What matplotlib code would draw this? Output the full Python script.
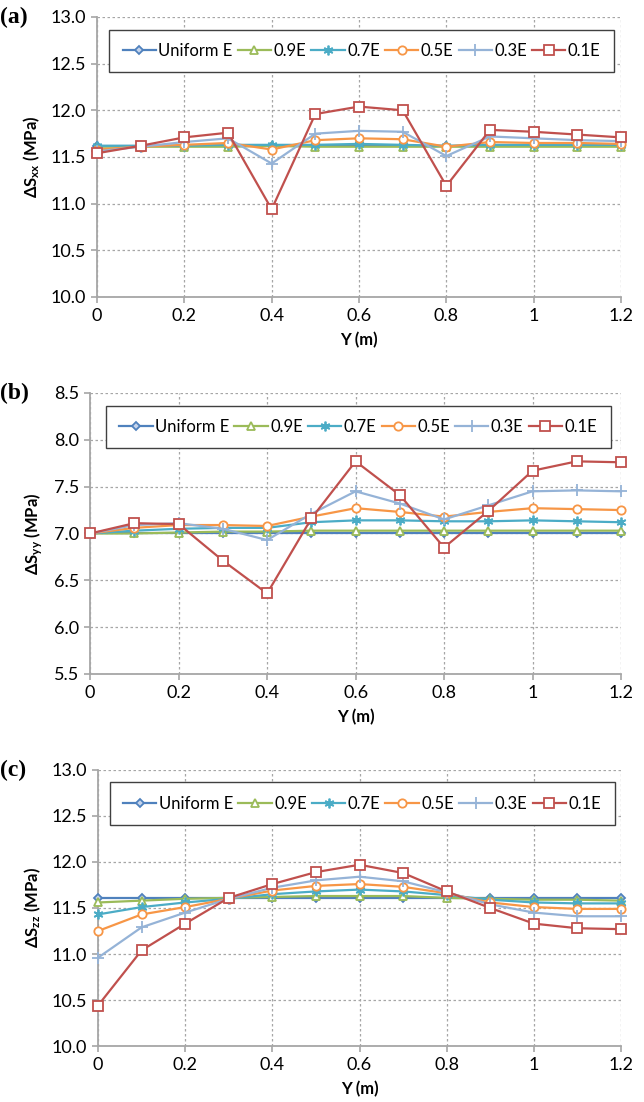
import numpy as np
import matplotlib
matplotlib.use("Agg")
import matplotlib.pyplot as plt

plt.rcParams['font.family'] = ['Lato', 'DejaVu Sans']
plt.rcParams['mathtext.fontset'] = 'custom'
plt.rcParams['mathtext.rm'] = 'Lato'
plt.rcParams['mathtext.bf'] = 'Lato:bold'
plt.rcParams['mathtext.default'] = 'bf'

y_pos = [0, 0.1, 0.2, 0.3, 0.4, 0.5, 0.6, 0.7, 0.8, 0.9, 1.0, 1.1, 1.2]
series_names = ["Uniform E", "0.9E", "0.7E", "0.5E", "0.3E", "0.1E"]

# (a) change of stress in x
sxx_uniform = [11.62] * 13
sxx_09 = [11.61, 11.61, 11.61, 11.61, 11.62, 11.61, 11.61, 11.61, 11.61, 11.61, 11.61, 11.61, 11.61]
sxx_07 = [11.62, 11.62, 11.62, 11.63, 11.63, 11.63, 11.64, 11.63, 11.62, 11.63, 11.63, 11.63, 11.63]
sxx_05 = [11.58, 11.61, 11.63, 11.65, 11.58, 11.68, 11.70, 11.69, 11.61, 11.66, 11.65, 11.65, 11.64]
sxx_03 = [11.56, 11.61, 11.66, 11.70, 11.43, 11.75, 11.78, 11.77, 11.51, 11.72, 11.70, 11.68, 11.67]
sxx_01 = [11.54, 11.62, 11.71, 11.76, 10.94, 11.96, 12.04, 12.00, 11.19, 11.79, 11.77, 11.74, 11.71]

# (b) change of stress in y
syy_uniform = [7.00] * 13
syy_09 = [7.00, 7.00, 7.01, 7.02, 7.02, 7.03, 7.03, 7.03, 7.03, 7.03, 7.03, 7.03, 7.03]
syy_07 = [7.00, 7.03, 7.05, 7.06, 7.06, 7.12, 7.14, 7.14, 7.13, 7.13, 7.14, 7.13, 7.12]
syy_05 = [7.00, 7.06, 7.09, 7.09, 7.08, 7.18, 7.27, 7.23, 7.18, 7.23, 7.27, 7.26, 7.25]
syy_03 = [7.00, 7.09, 7.11, 7.05, 6.93, 7.21, 7.45, 7.32, 7.15, 7.30, 7.45, 7.46, 7.45]
syy_01 = [7.00, 7.11, 7.10, 6.71, 6.36, 7.16, 7.77, 7.41, 6.85, 7.24, 7.67, 7.77, 7.76]

# (c) change of stress in z
szz_uniform = [11.61] * 13
szz_09 = [11.56, 11.58, 11.60, 11.61, 11.62, 11.63, 11.63, 11.63, 11.61, 11.60, 11.59, 11.59, 11.58]
szz_07 = [11.43, 11.51, 11.56, 11.60, 11.65, 11.68, 11.70, 11.68, 11.64, 11.59, 11.56, 11.55, 11.55]
szz_05 = [11.25, 11.43, 11.51, 11.60, 11.69, 11.74, 11.76, 11.73, 11.66, 11.56, 11.51, 11.49, 11.49]
szz_03 = [10.96, 11.29, 11.45, 11.60, 11.72, 11.80, 11.84, 11.79, 11.67, 11.54, 11.45, 11.41, 11.41]
szz_01 = [10.44, 11.04, 11.33, 11.61, 11.76, 11.89, 11.97, 11.88, 11.68, 11.50, 11.33, 11.28, 11.27]

colors = ["#4F81BD", "#9BBB59", "#4BACC6", "#F79646", "#95B3D7", "#C0504D"]
markers = ["D", "^", (6, 2, 0), "o", "+", "s"]
msizes = [4.5, 5.5, 7, 6, 8, 6.5]
mfaces = ["#C6D5EC", "white", "none", "white", "none", "white"]

panels = [
    ("(a)", r"ΔS$_{xx}$ (MPa)", [sxx_uniform, sxx_09, sxx_07, sxx_05, sxx_03, sxx_01],
     (10.0, 13.0), np.arange(10.0, 13.01, 0.5), [0.1506, 0.7305, 0.8137, 0.2541]),
    ("(b)", r"ΔS$_{yy}$ (MPa)", [syy_uniform, syy_09, syy_07, syy_05, syy_03, syy_01],
     (5.5, 8.5), np.arange(5.5, 8.51, 0.5), [0.1400, 0.3884, 0.8243, 0.2550]),
    ("(c)", r"ΔS$_{zz}$ (MPa)", [szz_uniform, szz_09, szz_07, szz_05, szz_03, szz_01],
     (10.0, 13.0), np.arange(10.0, 13.01, 0.5), [0.1522, 0.0508, 0.8121, 0.2505]),
]

fig = plt.figure(figsize=(6.44, 11.02), dpi=100)

for tag, ylabel, data, ylim, yticks, rect in panels:
    ax = fig.add_axes(rect)
    for vals, name, c, m, ms, mf in zip(data, series_names, colors, markers, msizes, mfaces):
        ax.plot(y_pos, vals, color=c, lw=1.6, marker=m, markersize=ms,
                markerfacecolor=mf, markeredgecolor=c, markeredgewidth=1.3,
                label=name, clip_on=False, zorder=3)

    ax.set_xlim(0, 1.2)
    ax.set_ylim(*ylim)
    ax.set_xticks([0, 0.2, 0.4, 0.6, 0.8, 1.0, 1.2])
    ax.set_xticklabels(["0", "0.2", "0.4", "0.6", "0.8", "1", "1.2"])
    ax.set_yticks(yticks)
    ax.set_yticklabels([f"{v:.1f}" for v in yticks])
    ax.tick_params(labelsize=13, length=4, color="#A6A6A6", width=1.2, pad=4)

    ax.grid(True, color="#A6A6A6", linestyle=(0, (2, 2)), linewidth=0.9)
    ax.set_axisbelow(True)
    for side in ["top", "right"]:
        ax.spines[side].set_visible(False)
    for side in ["left", "bottom"]:
        ax.spines[side].set_color("#A6A6A6")
        ax.spines[side].set_linewidth(1.3)

    ax.set_ylabel(ylabel, fontsize=12, fontweight="bold", labelpad=6)
    ax.set_xlabel("Y (m)", fontsize=12, fontweight="bold", labelpad=6)

    leg = ax.legend(loc="upper center", bbox_to_anchor=(0.505, 0.955), ncol=6,
                    fontsize=12, handlelength=2.0, handletextpad=0.15,
                    columnspacing=0.3, borderpad=0.8, fancybox=False,
                    framealpha=1, edgecolor="#404040", borderaxespad=0)
    leg.get_frame().set_linewidth(1.0)

    fig.text(0.0, rect[1] + rect[3], tag, fontsize=17, fontweight="bold",
             family="Liberation Serif", ha="left", va="center")

fig.savefig("out.png", dpi=100)
